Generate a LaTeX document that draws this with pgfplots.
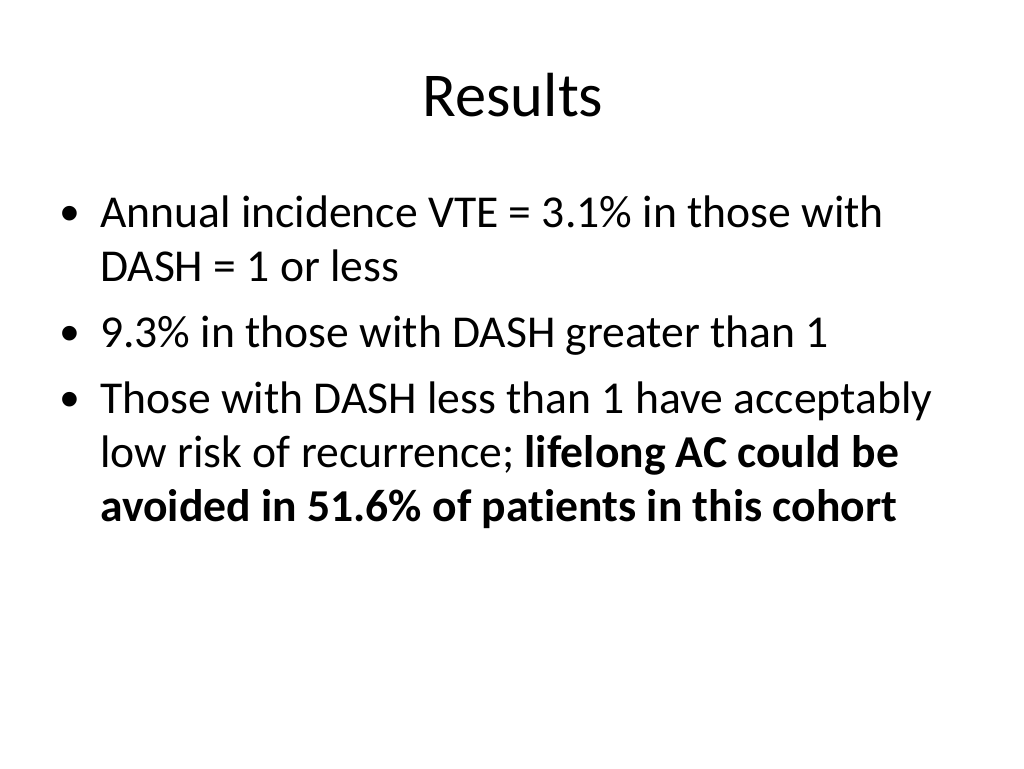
\documentclass[border=0pt]{standalone}
\usepackage{pgfplots}
\pgfplotsset{compat=1.18}
\usepackage{fontspec}
\setmainfont{Carlito}[Ligatures=NoCommon]
\newfontfamily\arialfont{Liberation Sans}
\begin{document}
\begin{tikzpicture}
\begin{axis}[at={(0,0)},anchor=south west,scale only axis,width=1024bp,height=768bp,
  xmin=0,xmax=1024,ymin=0,ymax=768,y dir=reverse,hide axis,clip=false]
\fill[white] (axis cs:0,0) rectangle (axis cs:1024,768);
\node[anchor=base,inner sep=0pt,font=\fontsize{62.6}{70}\selectfont] at (axis cs:513,116) {Results};
\begin{scope}[every node/.style={anchor=base west,inner sep=0pt,font=\fontsize{45.8}{52}\selectfont},
  bul/.style={anchor=base,inner sep=0pt,font=\arialfont\fontsize{54}{60}\selectfont}]
\node[bul] at (axis cs:70,231) {•};
\node at (axis cs:100,227) {Annual incidence VTE = 3.1\% in those with};
\node at (axis cs:100,281) {DASH = 1 or less};
\node[bul] at (axis cs:70,351) {•};
\node at (axis cs:100,347) {9.3\% in those with DASH greater than 1};
\node[bul] at (axis cs:70,417) {•};
\node at (axis cs:100,413) {Those with DASH less than 1 have acceptably};
\node at (axis cs:100,467) {low risk of recurrence; \textbf{lifelong AC could be}};
\node at (axis cs:100,521) {\textbf{avoided in 51.6\% of patients in this cohort}};
\end{scope}
\end{axis}
\end{tikzpicture}
\end{document}
